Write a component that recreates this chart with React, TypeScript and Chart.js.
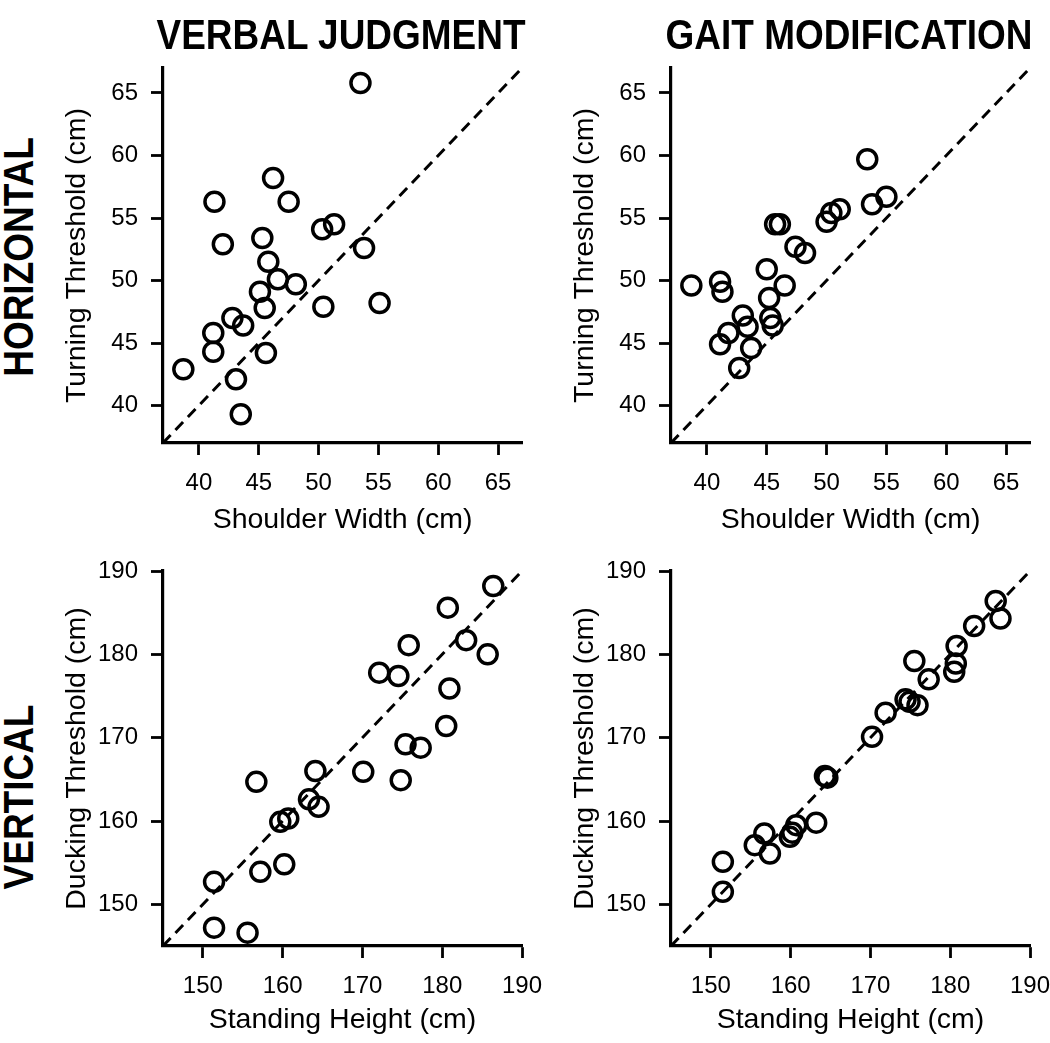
import React, { useEffect, useRef } from "react";
import { Chart, registerables } from "chart.js";

Chart.register(...registerables);

// ---- Data ----
const shoulderVerbal = [53.5, 46.2, 41.3, 47.5, 50.3, 51.3, 42.0, 45.3, 53.8, 45.8, 46.6, 48.1, 45.1, 45.5, 50.4, 55.1, 42.8, 43.7, 41.2, 41.2, 45.6, 38.7, 43.1, 43.5];
const turningVerbal = [65.8, 58.2, 56.3, 56.3, 54.1, 54.5, 52.9, 53.4, 52.6, 51.5, 50.1, 49.7, 49.1, 47.8, 47.9, 48.2, 47.0, 46.4, 45.8, 44.3, 44.2, 42.9, 42.1, 39.3];

const shoulderGait = [53.4, 55.0, 53.8, 51.1, 50.4, 50.0, 45.7, 46.1, 47.4, 48.2, 45.0, 41.1, 41.3, 38.7, 46.5, 45.2, 43.0, 43.4, 45.3, 45.5, 41.8, 41.1, 43.7, 42.7];
const turningGait = [59.7, 56.7, 56.1, 55.7, 55.4, 54.7, 54.5, 54.5, 52.7, 52.2, 50.9, 49.9, 49.1, 49.6, 49.6, 48.6, 47.2, 46.3, 47.0, 46.4, 45.8, 44.9, 44.6, 43.0];

const heightVerbal = [186.4, 180.7, 175.8, 183.0, 185.7, 172.1, 174.5, 180.9, 180.5, 175.4, 177.3, 170.1, 174.8, 164.1, 156.7, 163.3, 164.5, 159.7, 160.7, 160.2, 157.2, 151.4, 151.4, 155.6];
const duckingVerbal = [188.2, 185.6, 181.1, 181.7, 180.0, 177.8, 177.4, 175.9, 171.4, 169.2, 168.8, 165.9, 164.9, 166.0, 164.7, 162.6, 161.7, 159.9, 160.3, 154.8, 153.9, 152.7, 147.2, 146.6];

const heightGait = [185.7, 186.3, 183.0, 180.8, 180.7, 180.5, 175.5, 177.3, 174.4, 174.9, 175.9, 171.9, 170.2, 164.3, 164.6, 163.2, 160.7, 160.2, 159.9, 156.7, 155.5, 157.4, 151.5, 151.5];
const duckingGait = [186.4, 184.3, 183.4, 181.0, 178.9, 177.9, 179.2, 177.0, 174.6, 174.3, 173.9, 173.0, 170.1, 165.4, 165.2, 159.8, 159.5, 158.6, 158.1, 158.5, 157.1, 156.1, 155.1, 151.5];

const ticksHorizontal = [40, 45, 50, 55, 60, 65];
const ticksVertical = [150, 160, 170, 180, 190];
const rangeHorizontal = [37, 67];
const rangeVertical = [145, 190];

const columnTitles = ["VERBAL JUDGMENT", "GAIT MODIFICATION"];
const rowTitles = ["HORIZONTAL", "VERTICAL"];

const FONT = "'Liberation Sans', Arial, Helvetica, sans-serif";

// layout constants
const Y_AXIS_W = 113;
const X_AXIS_H = 97;
const PLOT_W = 359;
const PLOT_H = 375;
const PAD_TOP = 30;
const PAD_RIGHT = 40;
const CANVAS_W = Y_AXIS_W + PLOT_W + PAD_RIGHT;
const CANVAS_H = PAD_TOP + PLOT_H + X_AXIS_H;

type PanelProps = {
  xs: number[];
  ys: number[];
  ticks: number[];
  range: number[];
  xTitle: string;
  yTitle: string;
  left: number;
  top: number;
  xTitlePad: number;
};

function Panel({ xs, ys, ticks, range, xTitle, yTitle, left, top, xTitlePad }: PanelProps) {
  const ref = useRef<HTMLCanvasElement | null>(null);
  useEffect(() => {
    if (!ref.current) return;
    const setTicks = (s: any) => {
      s.ticks = ticks.map((v) => ({ value: v }));
    };
    const chart = new Chart(ref.current, {
      type: "scatter",
      data: {
        datasets: [
          {
            type: "line",
            data: [
              { x: range[0], y: range[0] },
              { x: range[1], y: range[1] },
            ],
            borderColor: "#000",
            borderWidth: 3,
            borderDash: [11, 7],
            pointRadius: 0,
            fill: false,
          } as any,
          {
            type: "scatter",
            data: xs.map((x, i) => ({ x, y: ys[i] })),
            pointRadius: 9.5,
            pointHoverRadius: 9.5,
            pointBorderWidth: 3.5,
            pointBorderColor: "#000",
            pointBackgroundColor: "rgba(0,0,0,0)",
          } as any,
        ],
      },
      options: {
        animation: false,
        responsive: false,
        devicePixelRatio: 1,
        events: [],
        layout: { padding: { left: 0, top: PAD_TOP, right: PAD_RIGHT, bottom: 0 } },
        plugins: { legend: { display: false }, tooltip: { enabled: false } },
        scales: {
          x: {
            type: "linear",
            position: "bottom",
            min: range[0],
            max: range[1],
            afterBuildTicks: setTicks,
            afterFit: (s: any) => {
              s.height = X_AXIS_H;
            },
            grid: {
              display: true,
              drawOnChartArea: false,
              drawTicks: true,
              tickLength: 12,
              tickWidth: 2.8,
              tickColor: "#000",
            },
            border: { display: true, color: "#000", width: 3.2 },
            ticks: {
              color: "#000",
              font: { family: FONT, size: 24 },
              padding: 14,
              maxRotation: 0,
              autoSkip: false,
            },
            title: {
              display: true,
              text: xTitle,
              color: "#000",
              font: { family: FONT, size: 28.5 },
              padding: { top: 0, bottom: xTitlePad },
            },
          },
          y: {
            type: "linear",
            position: "left",
            min: range[0],
            max: range[1],
            afterBuildTicks: setTicks,
            afterFit: (s: any) => {
              s.width = Y_AXIS_W;
            },
            grid: {
              display: true,
              drawOnChartArea: false,
              drawTicks: true,
              tickLength: 12,
              tickWidth: 2.8,
              tickColor: "#000",
            },
            border: { display: true, color: "#000", width: 3.2 },
            ticks: {
              color: "#000",
              font: { family: FONT, size: 24 },
              padding: 13,
              autoSkip: false,
            },
            title: {
              display: true,
              text: yTitle,
              color: "#000",
              font: { family: FONT, size: 28.5 },
              padding: { top: 10.4, bottom: 0 },
            },
          },
        },
      } as any,
    });
    return () => chart.destroy();
  }, []);
  return (
    <canvas
      ref={ref}
      width={CANVAS_W}
      height={CANVAS_H}
      style={{
        position: "absolute",
        left,
        top,
        width: CANVAS_W,
        height: CANVAS_H,
        display: "block",
      }}
    />
  );
}

const headStyle: React.CSSProperties = {
  position: "absolute",
  fontFamily: FONT,
  fontWeight: "bold",
  fontSize: 42,
  lineHeight: 1,
  whiteSpace: "nowrap",
  color: "#000",
};

export default function App() {
  return (
    <div
      style={{
        position: "absolute",
        left: 0,
        top: 0,
        width: 1050,
        height: 1043,
        overflow: "hidden",
        background: "#fff",
      }}
    >
      <Panel
        xs={shoulderVerbal}
        ys={turningVerbal}
        ticks={ticksHorizontal}
        range={rangeHorizontal}
        xTitle="Shoulder Width (cm)"
        yTitle="Turning Threshold (cm)"
        left={50}
        top={38}
        xTitlePad={2.9}
      />
      <Panel
        xs={shoulderGait}
        ys={turningGait}
        ticks={ticksHorizontal}
        range={rangeHorizontal}
        xTitle="Shoulder Width (cm)"
        yTitle="Turning Threshold (cm)"
        left={558}
        top={38}
        xTitlePad={2.9}
      />
      <Panel
        xs={heightVerbal}
        ys={duckingVerbal}
        ticks={ticksVertical}
        range={rangeVertical}
        xTitle="Standing Height (cm)"
        yTitle="Ducking Threshold (cm)"
        left={50}
        top={541}
        xTitlePad={5.9}
      />
      <Panel
        xs={heightGait}
        ys={duckingGait}
        ticks={ticksVertical}
        range={rangeVertical}
        xTitle="Standing Height (cm)"
        yTitle="Ducking Threshold (cm)"
        left={558}
        top={541}
        xTitlePad={5.9}
      />
      <div style={{ ...headStyle, left: 341, top: 35, transform: "translate(-50%, -50%) scaleX(0.88)" }}>
        {columnTitles[0]}
      </div>
      <div style={{ ...headStyle, left: 849, top: 35, transform: "translate(-50%, -50%) scaleX(0.88)" }}>
        {columnTitles[1]}
      </div>
      <div
        style={{ ...headStyle, left: 19, top: 257, transform: "translate(-50%, -50%) rotate(-90deg) scaleX(0.88)" }}
      >
        {rowTitles[0]}
      </div>
      <div
        style={{ ...headStyle, left: 19, top: 797, transform: "translate(-50%, -50%) rotate(-90deg) scaleX(0.88)" }}
      >
        {rowTitles[1]}
      </div>
    </div>
  );
}
